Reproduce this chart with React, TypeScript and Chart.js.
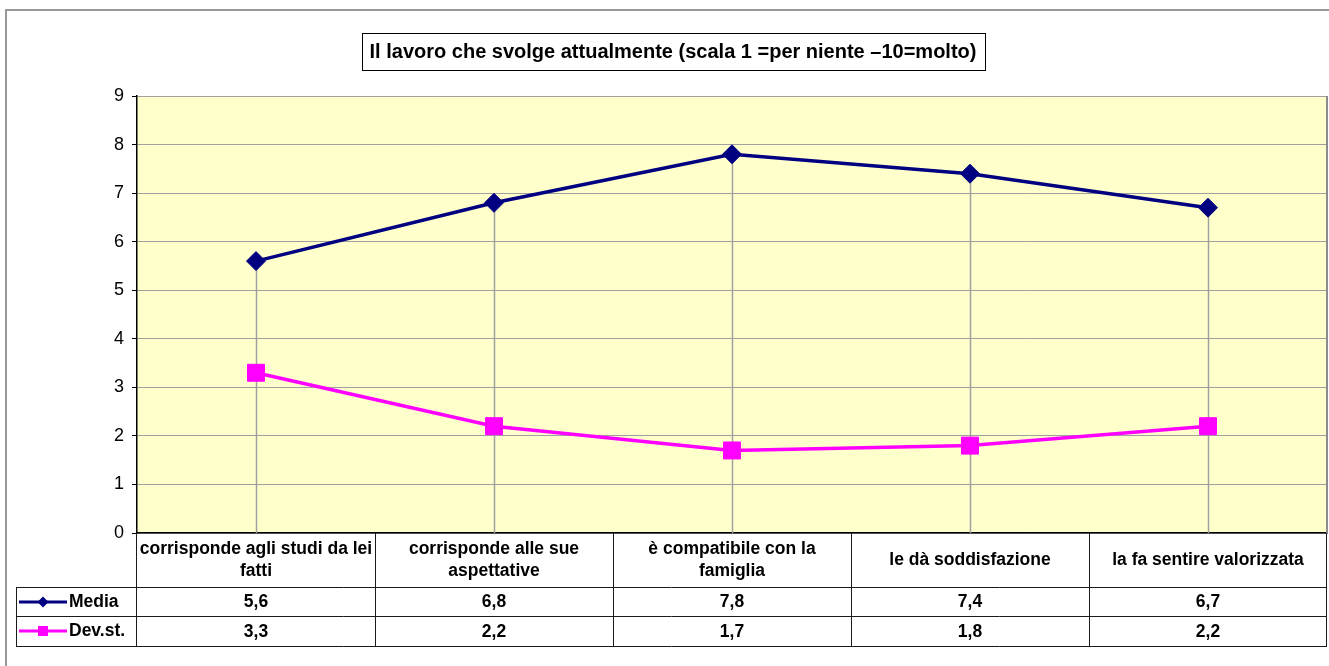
import React, { useEffect, useRef } from "react";
import { Chart, registerables } from "chart.js";

Chart.register(...registerables);

const TITLE = "Il lavoro che svolge attualmente (scala 1 =per niente \u201310=molto)";
const categories: string[][] = [
  ["corrisponde agli studi da lei", "fatti"],
  ["corrisponde alle sue", "aspettative"],
  ["è compatibile con la", "famiglia"],
  ["le dà soddisfazione"],
  ["la fa sentire valorizzata"],
];
const mediaValues = [5.6, 6.8, 7.8, 7.4, 6.7];
const devValues = [3.3, 2.2, 1.7, 1.8, 2.2];
const seriesNames = ["Media", "Dev.st."];
const yTicks = [0, 1, 2, 3, 4, 5, 6, 7, 8, 9];

const NAVY = "#000080";
const PINK = "#FF00FF";
const FONT = "'Liberation Sans', Arial, sans-serif";
const TABLE_FONT = `bold 17.5px ${FONT}`;

const fmt = (v: number) => v.toFixed(1).replace(".", ",");

const excelPlugin = {
  id: "excelLook",
  beforeDraw(chart: any) {
    const { ctx, chartArea: a } = chart;
    ctx.save();
    ctx.fillStyle = "#ffffff";
    ctx.fillRect(0, 0, chart.width, chart.height);
    ctx.strokeStyle = "#999999";
    ctx.lineWidth = 2;
    ctx.strokeRect(6, 10, 1400, 800);
    ctx.fillStyle = "#FFFFCC";
    ctx.fillRect(a.left, a.top, a.right - a.left, a.bottom - a.top);
    ctx.restore();
  },
  beforeDatasetsDraw(chart: any) {
    const { ctx, chartArea: a } = chart;
    ctx.save();
    // plot area right border
    ctx.strokeStyle = "#8c8c8c";
    ctx.lineWidth = 2;
    ctx.beginPath();
    ctx.moveTo(a.right, a.top);
    ctx.lineTo(a.right, a.bottom);
    ctx.stroke();
    // drop lines
    const m0 = chart.getDatasetMeta(0).data;
    const m1 = chart.getDatasetMeta(1).data;
    ctx.strokeStyle = "#a0a0a0";
    ctx.lineWidth = 1.5;
    m0.forEach((p: any, i: number) => {
      const top = Math.min(p.y, m1[i] ? m1[i].y : p.y);
      const x = Math.round(p.x) + 0.5;
      ctx.beginPath();
      ctx.moveTo(x, top);
      ctx.lineTo(x, a.bottom);
      ctx.stroke();
    });
    ctx.restore();
  },
  afterDraw(chart: any) {
    const { ctx, chartArea: a } = chart;
    const n = categories.length;
    const colW = (a.right - a.left) / n;
    const headerBottom = 587;
    const row1Bottom = 616;
    const row2Bottom = 646;
    const legendLeft = 16;
    ctx.save();
    ctx.strokeStyle = "#1a1a1a";
    ctx.lineWidth = 1;
    const hl = (x1: number, x2: number, y: number) => {
      ctx.beginPath();
      ctx.moveTo(x1, Math.round(y) + 0.5);
      ctx.lineTo(x2, Math.round(y) + 0.5);
      ctx.stroke();
    };
    const vl = (x: number, y1: number, y2: number) => {
      ctx.beginPath();
      ctx.moveTo(Math.round(x) + 0.5, y1);
      ctx.lineTo(Math.round(x) + 0.5, y2);
      ctx.stroke();
    };
    hl(legendLeft, a.right, headerBottom);
    hl(legendLeft, a.right, row1Bottom);
    hl(legendLeft, a.right, row2Bottom);
    vl(legendLeft, headerBottom, row2Bottom + 1);
    for (let i = 0; i <= n; i++) {
      const x = i === n ? a.right - 1 : a.left + colW * i - (i === 0 ? 1 : 0);
      vl(x, a.bottom, row2Bottom + 1);
    }
    ctx.fillStyle = "#000";
    ctx.font = TABLE_FONT;
    ctx.textAlign = "center";
    ctx.textBaseline = "middle";
    const xs = chart.scales.x;
    categories.forEach((lines, i) => {
      const cx = xs.getPixelForValue(i);
      if (lines.length === 1) {
        ctx.fillText(lines[0], cx, 560);
      } else {
        ctx.fillText(lines[0], cx, 549);
        ctx.fillText(lines[1], cx, 571);
      }
      ctx.fillText(fmt(mediaValues[i]), cx, 602);
      ctx.fillText(fmt(devValues[i]), cx, 632);
    });
    // legend keys
    const keyY = [602, 631];
    const colors = [NAVY, PINK];
    colors.forEach((c, k) => {
      const y = keyY[k];
      ctx.strokeStyle = c;
      ctx.lineWidth = 3;
      ctx.beginPath();
      ctx.moveTo(19, y);
      ctx.lineTo(67, y);
      ctx.stroke();
      ctx.fillStyle = c;
      if (k === 0) {
        ctx.beginPath();
        ctx.moveTo(43 - 5.5, y);
        ctx.lineTo(43, y - 5.5);
        ctx.lineTo(43 + 5.5, y);
        ctx.lineTo(43, y + 5.5);
        ctx.closePath();
        ctx.fill();
      } else {
        ctx.fillRect(43 - 5, y - 5, 10, 10);
      }
      ctx.fillStyle = "#000";
      ctx.textAlign = "left";
      ctx.font = TABLE_FONT;
      ctx.fillText(seriesNames[k], 69, y);
    });
    // title
    ctx.font = `bold 20px ${FONT}`;
    const tw = ctx.measureText(TITLE).width;
    const tcx = 673;
    const bx = Math.round(tcx - tw / 2 - 8) + 0.5;
    const bw = Math.round(tw + 16);
    ctx.fillStyle = "#fff";
    ctx.fillRect(bx, 33.5, bw, 37);
    ctx.strokeStyle = "#000";
    ctx.lineWidth = 1;
    ctx.strokeRect(bx, 33.5, bw, 37);
    ctx.fillStyle = "#000";
    ctx.textAlign = "center";
    ctx.textBaseline = "middle";
    ctx.fillText(TITLE, tcx, 52);
    ctx.restore();
  },
};

export default function App() {
  const ref = useRef<HTMLCanvasElement | null>(null);
  useEffect(() => {
    if (!ref.current) return;
    const chart = new Chart(ref.current, {
      type: "line",
      data: {
        labels: categories.map((c) => c.join(" ")),
        datasets: [
          {
            label: seriesNames[0],
            data: mediaValues,
            borderColor: NAVY,
            backgroundColor: NAVY,
            borderWidth: 3.5,
            pointStyle: "rectRot",
            pointRadius: 9.5,
            pointBorderWidth: 1,
            pointBackgroundColor: NAVY,
            pointBorderColor: NAVY,
            tension: 0,
          },
          {
            label: seriesNames[1],
            data: devValues,
            borderColor: PINK,
            backgroundColor: PINK,
            borderWidth: 3.5,
            pointStyle: "rect",
            pointRadius: 12,
            pointBorderWidth: 1,
            pointBackgroundColor: PINK,
            pointBorderColor: PINK,
            tension: 0,
          },
        ],
      },
      options: {
        responsive: false,
        animation: false,
        devicePixelRatio: 1,
        layout: { autoPadding: false, padding: { top: 96, right: 2, left: 0, bottom: 0 } },
        plugins: {
          legend: { display: false },
          title: { display: false },
          tooltip: { enabled: false },
        },
        scales: {
          x: {
            type: "category",
            offset: true,
            grid: { display: false, drawTicks: false },
            ticks: { display: false },
            border: { display: true, color: "#000", width: 1.5 },
            afterFit: (s: any) => {
              s.height = 133;
            },
          },
          y: {
            min: yTicks[0],
            max: yTicks[yTicks.length - 1],
            afterBuildTicks: (s: any) => {
              s.ticks = yTicks.map((v) => ({ value: v }));
            },
            grid: {
              color: "#a0a0a0",
              lineWidth: 1,
              drawTicks: true,
              tickLength: 5,
              tickColor: "#000",
            },
            border: { display: true, color: "#000", width: 1.5 },
            ticks: {
              color: "#000",
              padding: 8,
              font: { family: FONT, size: 18 },
            },
            afterFit: (s: any) => {
              s.width = 137;
            },
          },
        },
      },
      plugins: [excelPlugin],
    });
    return () => chart.destroy();
  }, []);
  return (
    <div style={{ position: "fixed", left: 0, top: 0, width: 1329, height: 666, background: "#fff" }}>
      <canvas ref={ref} width={1329} height={666} style={{ display: "block" }} />
    </div>
  );
}
